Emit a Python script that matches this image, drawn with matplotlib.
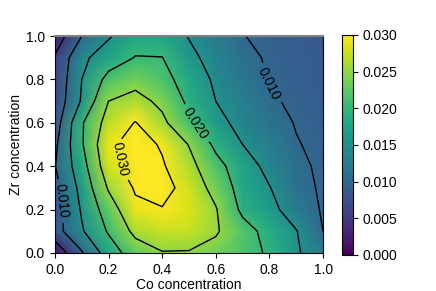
import numpy as np
import matplotlib
matplotlib.use('Agg')
import matplotlib.pyplot as plt

plt.rcParams['font.family'] = ['Liberation Sans', 'DejaVu Sans']
plt.rcParams['font.size'] = 10

# grid coordinates (concentrations)
co = [0.0, 0.1, 0.2, 0.3, 0.4, 0.5, 0.6, 0.7, 0.8, 0.9, 1.0]
zr = [0.0, 0.1, 0.2, 0.3, 0.4, 0.5, 0.6, 0.7, 0.8, 0.9, 1.0]

# values, one row per Zr concentration (bottom -> top)
z_00 = [0.0015, 0.0095, 0.0175, 0.0225, 0.0248, 0.0247, 0.0235, 0.0215, 0.0195, 0.0155, 0.0125]
z_01 = [0.0080, 0.0145, 0.0205, 0.0262, 0.0275, 0.0275, 0.0255, 0.0218, 0.0185, 0.0152, 0.0100]
z_02 = [0.0075, 0.0155, 0.0225, 0.0290, 0.0297, 0.0285, 0.0253, 0.0190, 0.0165, 0.0125, 0.0096]
z_03 = [0.0085, 0.0165, 0.0255, 0.0305, 0.0320, 0.0278, 0.0235, 0.0180, 0.0152, 0.0113, 0.0095]
z_04 = [0.0098, 0.0180, 0.0280, 0.0325, 0.0305, 0.0265, 0.0215, 0.0175, 0.0135, 0.0110, 0.0092]
z_05 = [0.0090, 0.0195, 0.0290, 0.0320, 0.0295, 0.0248, 0.0190, 0.0150, 0.0128, 0.0102, 0.0092]
z_06 = [0.0075, 0.0195, 0.0270, 0.0302, 0.0260, 0.0210, 0.0165, 0.0135, 0.0115, 0.0098, 0.0090]
z_07 = [0.0065, 0.0155, 0.0250, 0.0265, 0.0240, 0.0190, 0.0150, 0.0130, 0.0106, 0.0092, 0.0088]
z_08 = [0.0060, 0.0150, 0.0215, 0.0235, 0.0215, 0.0180, 0.0142, 0.0118, 0.0098, 0.0090, 0.0085]
z_09 = [0.0055, 0.0140, 0.0175, 0.0202, 0.0201, 0.0160, 0.0135, 0.0112, 0.0095, 0.0090, 0.0085]
z_10 = [0.0020, 0.0100, 0.0145, 0.0180, 0.0175, 0.0148, 0.0125, 0.0101, 0.0093, 0.0087, 0.0080]

plain_levels = [0.005, 0.015, 0.025]
label_levels = [0.010, 0.020, 0.030]
cbar_ticks = [0.000, 0.005, 0.010, 0.015, 0.020, 0.025, 0.030]

Z = np.array([z_00, z_01, z_02, z_03, z_04, z_05, z_06, z_07, z_08, z_09, z_10])
X, Y = np.meshgrid(co, zr)

fig = plt.figure(figsize=(4.36, 2.91), dpi=100)
ax = fig.add_axes([0.126, 0.131, 0.615, 0.745])
cax = fig.add_axes([0.784, 0.124, 0.025, 0.756])

mesh = ax.pcolormesh(X, Y, Z, shading='gouraud', cmap='viridis', vmin=0, vmax=0.03)
ax.contour(X, Y, Z, levels=plain_levels, colors='k', linewidths=1)
cs = ax.contour(X, Y, Z, levels=label_levels, colors='k', linewidths=1)
ax.clabel(cs, fmt='%.3f', fontsize=10,
          manual=[(0.03, 0.24), (0.80, 0.78), (0.53, 0.60), (0.24, 0.43)])

ax.set_xlim(0, 1)
ax.set_ylim(0, 1)
ax.set_xticks([0, 0.2, 0.4, 0.6, 0.8, 1.0])
ax.set_yticks([0, 0.2, 0.4, 0.6, 0.8, 1.0])
ax.set_xticklabels(['0.0', '0.2', '0.4', '0.6', '0.8', '1.0'])
ax.set_yticklabels(['0.0', '0.2', '0.4', '0.6', '0.8', '1.0'])
ax.set_xlabel('Co concentration', labelpad=1)
ax.set_ylabel('Zr concentration', labelpad=2)
ax.spines['top'].set_color('0.5')
ax.spines['top'].set_linewidth(1.5)

cb = fig.colorbar(mesh, cax=cax, ticks=cbar_ticks)
cb.ax.set_yticklabels(['%.3f' % t for t in cbar_ticks])
cax.axhline(0.03, color='0.5', lw=1.5)

plt.savefig('out.png', dpi=100)
